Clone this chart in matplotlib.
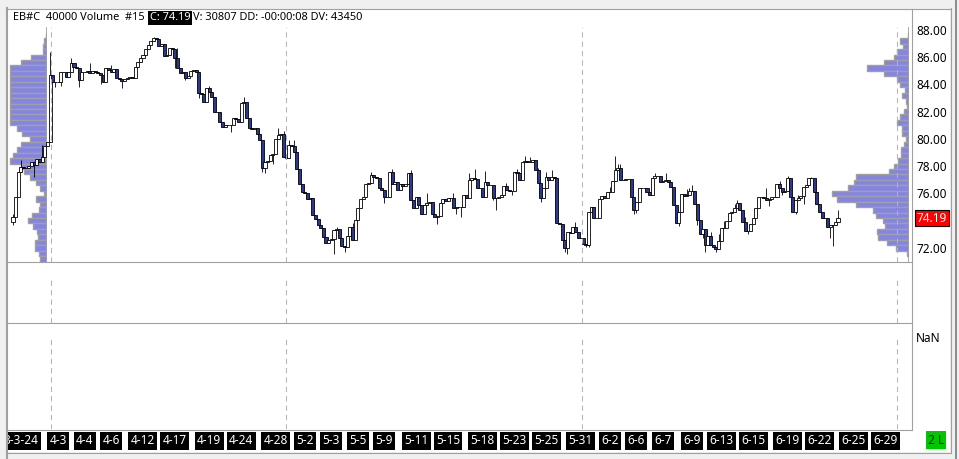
import matplotlib.pyplot as plt
from matplotlib.patches import Rectangle

plt.rcParams['font.family'] = ['Noto Sans', 'DejaVu Sans']

W, H = 959, 459

# bar data (40000 volume bars); open of each bar is the previous close
first_open = 73.90
closes = [
    74.30, 75.77, 77.60, 77.97, 77.85, 77.90, 78.00, 78.30, 78.10, 78.50,
    78.30, 78.70, 79.50, 79.78, 84.70, 84.21, 84.20, 84.20, 84.94, 84.94,
    84.57, 84.94, 85.55, 85.31, 85.19, 84.33, 84.94, 84.94, 85.00, 84.88,
    84.99, 84.94, 84.82, 84.70, 84.16, 85.24, 85.07, 84.94, 85.14, 84.45,
    84.37, 84.26, 84.40, 84.45, 84.55, 84.50, 85.31, 85.63, 85.92, 86.17,
    86.61, 86.90, 87.19, 87.39, 87.34, 86.85, 87.00, 86.12, 86.17, 86.70,
    86.61, 85.97,
    85.19, 84.82, 84.94, 84.50, 84.62, 84.99, 85.07, 84.94, 83.35, 83.28,
    82.74, 83.72, 83.48, 83.11, 81.96, 81.96, 81.27, 80.90, 81.03, 81.00,
    81.05, 81.52, 81.50, 81.27, 82.62, 82.70, 81.57, 80.83, 80.73, 80.78,
    80.34, 79.93, 77.85, 78.29, 78.37, 78.83, 78.88, 80.00, 80.30, 80.40,
    78.70, 78.62, 79.56, 79.51, 79.07, 77.80, 76.67, 76.14, 76.00, 75.60,
    75.65, 74.42, 74.13, 73.69, 73.45, 72.83, 72.34, 72.58, 72.65, 73.32,
    73.40, 72.70, 72.17,
    72.10, 72.90, 73.56, 72.59, 74.05, 74.96, 75.60, 75.77, 76.67, 76.74,
    77.36, 77.24, 77.11, 76.43, 76.26, 75.77, 75.77, 77.60, 76.67, 76.86,
    76.26, 76.67, 76.57, 76.67, 77.48, 75.52, 74.96, 75.77, 75.16, 74.47,
    75.16, 75.28, 75.40, 74.47, 74.30, 74.37, 75.28, 75.60, 75.45, 75.70,
    75.65, 74.96, 75.04, 75.04, 75.04, 75.89, 75.65, 76.99, 77.11, 77.06,
    76.43, 76.43, 75.77, 76.87, 76.62, 76.62, 75.65, 75.70, 75.77, 75.89,
    76.55, 76.26, 76.18, 76.18, 77.60,
    77.48, 76.99, 78.34, 78.39, 78.29, 78.34, 78.46, 77.72, 76.74, 75.65,
    76.38, 77.24, 76.99, 77.24, 77.16, 73.81, 73.74, 72.59, 72.02, 73.15,
    73.08, 73.56, 73.15, 72.71, 72.76, 72.27, 72.22, 74.62, 75.04, 74.23,
    74.23, 75.60, 75.84, 75.65, 76.14, 76.08, 76.92, 77.72, 77.90, 76.99,
    76.99, 77.06, 77.06, 75.77, 74.79, 75.40, 76.38, 76.38, 76.43, 76.14,
    75.89, 77.11, 77.31, 77.31, 76.82, 76.92, 76.99, 76.86, 76.50, 75.16,
    73.81, 74.62, 75.94,
    75.84, 75.89, 76.18, 76.18, 75.21, 74.06, 73.00, 73.40, 72.22, 72.90,
    72.22, 72.10, 71.93, 72.51, 73.49, 73.49, 73.98, 74.55, 74.62, 74.96,
    75.28, 74.79, 73.93, 73.25, 73.25, 73.74, 74.23, 74.96, 75.77, 75.77,
    75.70, 75.52, 75.60, 75.77, 75.77, 76.67, 76.43, 76.14, 76.18, 77.11,
    75.77, 74.67, 75.52, 75.65, 75.84, 76.50, 76.62, 77.11, 77.16, 76.09,
    75.21, 74.67, 74.18, 74.18, 73.56, 73.70, 73.68, 73.93, 74.19,
]
# bars with visible wicks: bar index -> high / low
wick_highs = {
    0: 74.5, 3: 78.46, 11: 79.56, 14: 86.4, 22: 85.92, 29: 85.57, 37: 85.4,
    53: 87.51, 62: 86.65, 74: 83.9, 87: 83.11, 100: 80.8, 102: 80.59,
    104: 79.9, 106: 79.9, 122: 73.56, 128: 73.8, 135: 77.6, 143: 77.8,
    150: 77.7, 156: 76.0, 166: 76.0, 172: 77.5, 174: 77.8, 178: 77.65,
    186: 76.8, 190: 77.8, 193: 78.78, 195: 78.7, 198: 77.9, 201: 77.6,
    203: 77.7, 212: 73.9, 225: 76.5, 227: 78.75, 228: 78.2, 229: 78.2,
    242: 77.5, 246: 77.5, 254: 76.3, 255: 76.38, 256: 76.62, 263: 73.2,
    266: 73.0, 268: 74.0, 272: 75.2, 273: 75.5, 276: 74.3, 284: 76.38,
    289: 76.9, 292: 77.3, 296: 75.9, 301: 77.24, 311: 74.79,
}
wick_lows = {
    0: 73.7, 8: 77.24, 16: 83.84, 18: 83.9, 25: 83.8, 33: 84.0, 41: 83.77,
    61: 85.19, 65: 84.33, 70: 83.0, 78: 81.5, 82: 80.54, 94: 77.6,
    95: 77.48, 98: 78.2, 103: 78.5, 121: 71.54, 125: 71.73, 140: 75.28,
    160: 73.74, 167: 74.5, 169: 74.3, 181: 75.5, 182: 74.79, 188: 75.9,
    199: 75.4, 208: 71.68, 209: 71.54, 215: 72.3, 216: 72.1, 217: 72.05,
    234: 74.5, 235: 74.6, 251: 73.6, 258: 73.7, 260: 72.7, 261: 71.73,
    265: 71.68, 277: 73.0, 285: 75.1, 290: 75.9, 295: 74.5, 298: 75.2,
    308: 72.71, 309: 72.17,
}

# volume profiles, 0.4 price bins from 87.8 downwards
profile_top = 87.8
profile_step = 0.4
left_profile = [1, 3.7, 4.3, 4.3, 16.3, 26.3] + [37.7] * 11 + [
    30.3, 25.7, 17.7, 26.3, 30.3, 34.3, 37.7, 27, 23.7, 17.7, 12, 7, 3.7,
    11.7, 7, 8.3, 15.7, 19.7, 14.3, 10.3, 9.7, 12.3, 12.3, 8.3, 7]
right_profile = [
    1, 9, 6, 11.7, 15, 25, 42, 25, 11.7, 8.3,
    3.7, 6.3, 3, 2, 4.3, 9, 11.7, 6.3, 6.3, 3,
    4.3, 7.7, 7.7, 11, 14.3, 19.7, 52.3, 54.3, 61, 77,
    72, 53, 35.7, 33, 25.7, 23.7, 31.7, 31, 21.7, 12.3,
    1.7, 0]

date_labels = ['3-3-24', '4-3', '4-4', '4-6', '4-12', '4-17', '4-19', '4-24',
               '4-28', '5-2', '5-3', '5-5', '5-9', '5-11', '5-15', '5-18',
               '5-23', '5-25', '5-31', '6-2', '6-6', '6-7', '6-9', '6-13',
               '6-15', '6-19', '6-22', '6-25', '6-29']
date_pos = [3, 17, 27, 37, 49, 61, 74, 86, 99, 110, 120, 130, 140, 152, 164,
            177, 189, 201, 214, 225, 235, 245, 256, 267, 279, 292, 304, 317,
            329]
month_breaks = [14.3, 102.9, 214.5, 333.2]
price_ticks = [72, 76, 78, 80, 82, 84, 86, 88]
last_price = 74.19

UP = 'white'
DOWN = '#2b3990'
PROF = '#8484e6'
GRID = '#b4b4b4'
LINE = '#a0a0a0'


def rect(x0, y0, x1, y1):
    return [x0 / W, 1 - y1 / H, (x1 - x0) / W, (y1 - y0) / H]


n = len(closes)
pitch = (838 - 13) / (n - 1)
x_left = (8 - 13) / pitch
x_right = (912 - 13) / pitch

fig = plt.figure(figsize=(W / 100, H / 100), dpi=100, facecolor='#f0f0f0')

# pixel canvas for frame, separators and header
bg = fig.add_axes([0, 0, 1, 1])
bg.set_xlim(0, W)
bg.set_ylim(H, 0)
bg.axis('off')
bg.add_patch(Rectangle((8, 9), 942, 443, fc='white', ec='none'))
bg.plot([6.5, 6.5], [8, 459], color=LINE, lw=1.5)
bg.plot([6, 951], [8.5, 8.5], color=LINE, lw=0.8)
bg.plot([950.5, 950.5], [8, 452], color=LINE, lw=0.8)
bg.plot([6, 951], [452.5, 452.5], color=LINE, lw=0.8)
bg.plot([955.5, 955.5], [0, 459], color='#7a7a7a', lw=1.2)
bg.plot([911.5, 911.5], [9, 429], color=LINE, lw=0.8)
for yy in (261.5, 322.5, 429.5):
    bg.plot([8, 912], [yy, yy], color=LINE, lw=0.8)
bg.text(13, 18, 'EB#C  40000 Volume  #15', fontsize=7.9, va='center')
bg.text(149.5, 18, 'C: 74.19', fontsize=7.9, va='center', color='white',
        bbox=dict(boxstyle='square,pad=0.15', fc='black', ec='none'))
bg.text(193, 18, 'V: 30807 DD: -00:00:08 DV: 43450', fontsize=7.9, va='center')
bg.text(916, 338, 'NaN', fontsize=8.5, va='center')
bg.text(936, 440, '2 L', fontsize=8.5, va='center', ha='center',
        bbox=dict(boxstyle='square,pad=0.2', fc='#00c800', ec='none'))

# price panel
ax = fig.add_axes(rect(8, 27, 912, 262))
ax.set_facecolor('none')
ax.set_zorder(3)
ax.set_xlim(x_left, x_right)
ax.set_ylim(70.97, 88.22)

lp = fig.add_axes(rect(8, 27, 47.5, 262), sharey=ax)
rp = fig.add_axes(rect(830, 27, 908.5, 262), sharey=ax)
centers = [profile_top - profile_step * (i + 0.5) for i in range(len(left_profile))]
lp.barh(centers, left_profile, height=profile_step, color=PROF,
        edgecolor=LINE, linewidth=1)
lp.set_xlim(39.5, 0)
rp.barh(centers, right_profile, height=profile_step, color=PROF,
        edgecolor=LINE, linewidth=1)
rp.set_xlim(78.5, 0)
for p in (lp, rp):
    p.set_zorder(2)
    p.set_facecolor('none')
    p.axvline(0, color=LINE, lw=1.2)
    p.axis('off')

xs = list(range(n))
opens = [first_open] + closes[:-1]
highs = [max(wick_highs.get(i, 0), o, c) for i, (o, c) in enumerate(zip(opens, closes))]
lows = [min(wick_lows.get(i, 999), o, c) for i, (o, c) in enumerate(zip(opens, closes))]
ax.vlines(xs, lows, highs, color='black', lw=0.6, zorder=2)
ax.bar(xs, [abs(c - o) for o, c in zip(opens, closes)],
       bottom=[min(o, c) for o, c in zip(opens, closes)], width=1.15,
       color=[UP if c >= o else DOWN for o, c in zip(opens, closes)],
       edgecolor='black', linewidth=0.6, zorder=3)

for mb in month_breaks:
    ax.axvline(mb, color=GRID, lw=0.75, ls=(0, (5, 4)), zorder=4)

ax.yaxis.tick_right()
ax.set_yticks(price_ticks)
ax.set_yticklabels(['%.2f' % t for t in price_ticks])
ax.tick_params(axis='y', length=0, pad=3, labelsize=8.5)
ax.set_xticks([])
for s in ax.spines.values():
    s.set_visible(False)
ax.annotate('%.2f' % last_price, xy=(1, last_price),
            xycoords=('axes fraction', 'data'), xytext=(3.5, 0),
            textcoords='offset points', va='center', ha='left',
            fontsize=8.5, color='white', annotation_clip=False,
            bbox=dict(boxstyle='square,pad=0.12', fc='#ff0000', ec='black', lw=0.8))

# empty indicator panels
for top, bottom, ymax in ((262, 323, 0.738), (323, 429, 0.849)):
    pa = fig.add_axes(rect(8, top, 912, bottom))
    pa.set_facecolor('none')
    pa.set_xlim(x_left, x_right)
    pa.set_ylim(0, 1)
    for mb in month_breaks:
        pa.axvline(mb, ymin=0, ymax=ymax, color=GRID, lw=0.75, ls=(0, (5, 4)))
    pa.axis('off')

# date strip
da = fig.add_axes(rect(8, 430, 950, 452))
da.set_facecolor('none')
da.set_xlim(x_left, (950 - 13) / pitch)
da.set_ylim(0, 1)
da.axis('off')
for lab, pos in zip(date_labels, date_pos):
    da.text(pos, 0.5, lab, ha='center', va='center', fontsize=8.5,
            color='white', clip_on=True,
            bbox=dict(boxstyle='square,pad=0.2', fc='black', ec='none'))

fig.savefig('out.png', dpi=100, facecolor=fig.get_facecolor())
